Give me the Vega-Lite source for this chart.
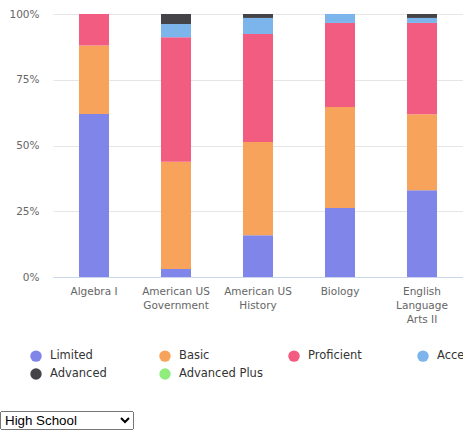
{
  "$schema": "https://vega.github.io/schema/vega-lite/v6.json",
  "usermeta": {"embedOptions": {"actions": false}},
  "autosize": {"type": "none"},
  "width": 410,
  "height": 263,
  "padding": {"left": 53, "top": 14, "right": 0, "bottom": 134},
  "background": "white",
  "params": [
    {"name": "level", "value": "High School", "bind": {"input": "select", "options": ["High School", "Middle School", "Elementary School"], "name": " "}}
  ],
  "data": {
    "values": [
      {"subject": "Algebra I", "level": "Limited", "rank": 1, "pct": 62},
      {"subject": "Algebra I", "level": "Basic", "rank": 2, "pct": 26},
      {"subject": "Algebra I", "level": "Proficient", "rank": 3, "pct": 12},
      {"subject": "American US Government", "level": "Limited", "rank": 1, "pct": 3},
      {"subject": "American US Government", "level": "Basic", "rank": 2, "pct": 40.8},
      {"subject": "American US Government", "level": "Proficient", "rank": 3, "pct": 47.4},
      {"subject": "American US Government", "level": "Accelerated", "rank": 4, "pct": 5},
      {"subject": "American US Government", "level": "Advanced", "rank": 5, "pct": 3.8},
      {"subject": "American US History", "level": "Limited", "rank": 1, "pct": 15.9},
      {"subject": "American US History", "level": "Basic", "rank": 2, "pct": 35.4},
      {"subject": "American US History", "level": "Proficient", "rank": 3, "pct": 41.1},
      {"subject": "American US History", "level": "Accelerated", "rank": 4, "pct": 6.1},
      {"subject": "American US History", "level": "Advanced", "rank": 5, "pct": 1.5},
      {"subject": "Biology", "level": "Limited", "rank": 1, "pct": 26.2},
      {"subject": "Biology", "level": "Basic", "rank": 2, "pct": 38.4},
      {"subject": "Biology", "level": "Proficient", "rank": 3, "pct": 32},
      {"subject": "Biology", "level": "Accelerated", "rank": 4, "pct": 3.4},
      {"subject": "English Language Arts II", "level": "Limited", "rank": 1, "pct": 33},
      {"subject": "English Language Arts II", "level": "Basic", "rank": 2, "pct": 28.9},
      {"subject": "English Language Arts II", "level": "Proficient", "rank": 3, "pct": 34.7},
      {"subject": "English Language Arts II", "level": "Accelerated", "rank": 4, "pct": 1.9},
      {"subject": "English Language Arts II", "level": "Advanced", "rank": 5, "pct": 1.5}
    ]
  },
  "mark": {"type": "bar"},
  "encoding": {
    "x": {
      "field": "subject",
      "type": "nominal",
      "sort": null,
      "scale": {"paddingInner": 0.634, "paddingOuter": 0.317},
      "axis": {
        "title": null,
        "labelAngle": 0,
        "ticks": false,
        "domainColor": "#ccd6eb",
        "labelColor": "#666666",
        "labelFont": "DejaVu Sans",
        "labelFontSize": 10.5,
        "labelPadding": 9,
        "labelLineHeight": 14,
        "labelExpr": "datum.value == 'American US Government' ? ['American US', 'Government'] : datum.value == 'American US History' ? ['American US', 'History'] : datum.value == 'English Language Arts II' ? ['English', 'Language', 'Arts II'] : datum.value"
      }
    },
    "y": {
      "field": "pct",
      "type": "quantitative",
      "stack": "normalize",
      "scale": {"domain": [0, 1]},
      "axis": {
        "title": null,
        "values": [0, 0.25, 0.5, 0.75, 1],
        "format": ".0%",
        "domain": false,
        "ticks": false,
        "gridColor": "#e6e6e6",
        "labelColor": "#666666",
        "labelFont": "DejaVu Sans",
        "labelFontSize": 10.5,
        "labelPadding": 14
      }
    },
    "color": {
      "field": "level",
      "type": "nominal",
      "scale": {
        "domain": ["Limited", "Basic", "Proficient", "Accelerated", "Advanced", "Advanced Plus"],
        "range": ["#8085e9", "#f7a35c", "#f15c80", "#7cb5ec", "#434348", "#90ed7d"]
      },
      "legend": {
        "title": null,
        "orient": "none",
        "legendX": -23,
        "legendY": 336,
        "direction": "horizontal",
        "columns": 4,
        "gridAlign": "all",
        "columnPadding": 25,
        "rowPadding": 6,
        "symbolType": "circle",
        "symbolSize": 130,
        "symbolStrokeWidth": 0,
        "symbolOpacity": 1,
        "labelFont": "DejaVu Sans",
        "labelFontSize": 11.5,
        "labelColor": "#333333",
        "labelOffset": 8,
        "labelLimit": 200
      }
    },
    "order": {"field": "rank", "type": "quantitative", "sort": "ascending"}
  },
  "config": {"view": {"stroke": null}}
}
